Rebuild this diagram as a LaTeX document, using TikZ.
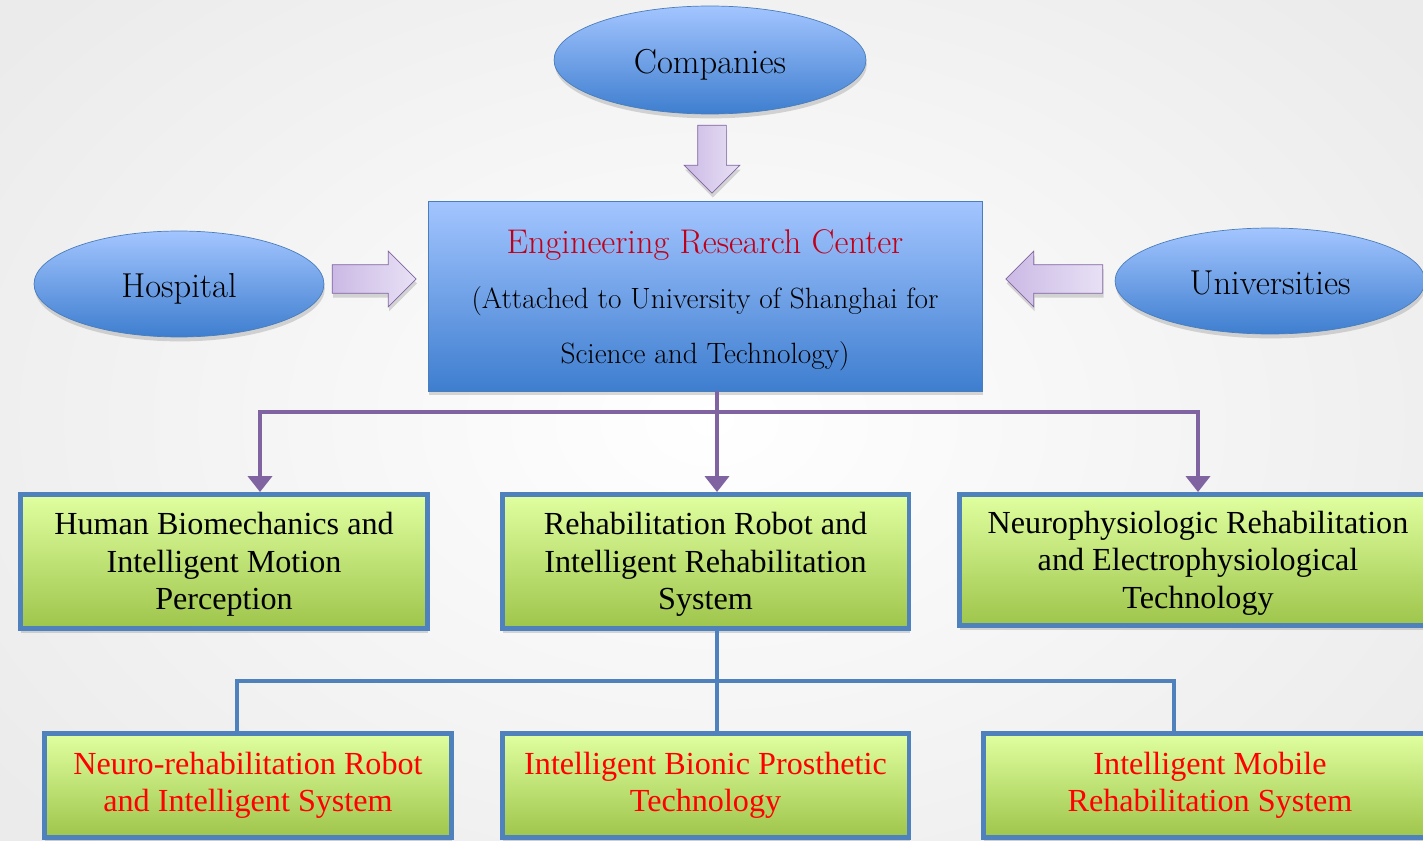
\documentclass[tikz,border=0pt]{standalone}
\usepackage{fontspec}
\newfontfamily\timesfont{Liberation Serif}
\usetikzlibrary{shapes.geometric, shapes.arrows, arrows.meta, shadows, calc, positioning}
\definecolor{ellblue}{HTML}{4A7EBB}
\definecolor{skytop}{HTML}{A3C5FF}
\definecolor{skybot}{HTML}{3E7ECF}
\definecolor{limetop}{HTML}{E0FFA0}
\definecolor{limebot}{HTML}{9EC54B}
\definecolor{boxblue}{HTML}{4F81BD}
\definecolor{plum}{HTML}{8064A2}
\definecolor{lavtop}{HTML}{E8E1F5}
\definecolor{lavbot}{HTML}{CBB9E5}
\definecolor{titlered}{HTML}{C00018}
% move a line down without changing its box
\newcommand{\dropby}[2]{\raisebox{-#1}[\height][\depth]{#2}}

\begin{document}
\begin{tikzpicture}[x=0.02cm, y=-0.02cm,
    softshadow/.style={drop shadow={opacity=0.3, shadow xshift=0.5pt, shadow yshift=-2.5pt}},
    partner/.style={ellipse, draw=ellblue, thin, top color=skytop, bottom color=skybot, inner sep=0pt, softshadow, font=\fontsize{19.7}{22}\selectfont},
    hq/.style={rectangle, draw=ellblue, thin, top color=skytop, bottom color=skybot, softshadow, align=center, font=\fontsize{16.7}{31.3}\selectfont},
    labbox/.style={rectangle, draw=boxblue, line width=2.8pt, top color=limetop, bottom color=limebot, softshadow, align=center, font=\timesfont\fontsize{18.3}{21.4}\selectfont},
    subbox/.style={labbox, text=red},
    feed/.style={single arrow, draw=plum, thin, left color=lavbot, right color=lavtop, inner xsep=0pt, inner ysep=0.28cm, minimum width=1.1cm, single arrow head extend=0.27cm, softshadow},
    branch/.style={draw=plum, line width=2.3pt, -{Triangle[width=13.5pt,length=9pt]}},
    twig/.style={draw=boxblue, line width=2.8pt}
  ]
\useasboundingbox (0,0) rectangle (1423,841);
\clip (0,0) rectangle (1423,841);
\shade[inner color=white, outer color=gray!16] (-200,-200) rectangle (1623,1041);

% partners
\node[partner, minimum width=6.24cm, minimum height=2.16cm] (comp) at (710,60) {\dropby{2.8pt}{Companies}};
\node[partner, minimum width=5.8cm, minimum height=2.12cm] (hosp) at (179,284) {\dropby{2.8pt}{Hospital}};
\node[partner, minimum width=6.2cm, minimum height=2.12cm] (univ) at (1270,281) {\dropby{1.2pt}{Universities}};

% research center
\node[hq, minimum width=11.08cm, minimum height=3.8cm] (erc) at (705,296)
  {\dropby{2.3pt}{\fontsize{19.5}{22}\selectfont\color{titlered}Engineering Research Center}\\
   \dropby{2.3pt}{(Attached to University of Shanghai for}\\
   \dropby{2.3pt}{Science and Technology)}};

% block arrows
\node[feed, rotate=-90, minimum height=1.36cm] (inC) at (712,152) {};
\node[feed, minimum height=1.68cm] (inH) at (367,279) {};
\node[feed, rotate=180, minimum height=1.94cm] (inU) at (1061.5,279) {};

% research groups
\node[labbox, minimum width=8.14cm, minimum height=2.68cm] (box1) at (224,561.5)
  {\dropby{1.7pt}{Human Biomechanics and}\\\dropby{1.7pt}{Intelligent Motion}\\\dropby{1.7pt}{Perception}};
\node[labbox, minimum width=8.14cm, minimum height=2.68cm] (box2) at (705.5,561.5)
  {\dropby{1.7pt}{Rehabilitation Robot and}\\\dropby{1.7pt}{Intelligent Rehabilitation}\\\dropby{1.7pt}{System}};
\node[labbox, minimum width=9.54cm, minimum height=2.62cm] (box3) at (1198,560)
  {\dropby{1.7pt}{Neurophysiologic Rehabilitation}\\\dropby{1.7pt}{and Electrophysiological}\\\dropby{1.7pt}{Technology}};

% sub directions
\node[subbox, minimum width=8.14cm, minimum height=2.08cm] (box4) at (248,785.5)
  {Neuro-rehabilitation Robot\\and Intelligent System};
\node[subbox, minimum width=8.14cm, minimum height=2.08cm] (box5) at (705.5,785.5)
  {Intelligent Bionic Prosthetic\\Technology};
\node[subbox, minimum width=9.06cm, minimum height=2.08cm] (box6) at (1210,785.5)
  {Intelligent Mobile\\Rehabilitation System};

% connectors
\coordinate (hub) at (717,412);
\coordinate (pl) at (260,412);
\coordinate (pr) at (1198,412);
\coordinate (bl) at (237,681);
\coordinate (br) at (1174,681);

\draw[branch, {Triangle[width=13.5pt,length=9pt]}-{Triangle[width=13.5pt,length=9pt]}]
  (pl |- box1.north) -- (pl) -- (pr) -- (pr |- box3.north);
\draw[branch] (hub |- erc.south) -- (hub |- box2.north);

\draw[twig] (bl |- box4.north) -- (bl) -- (br) -- (br |- box6.north);
\draw[twig] (hub |- box2.south) -- (hub |- box5.north);
\end{tikzpicture}
\end{document}
